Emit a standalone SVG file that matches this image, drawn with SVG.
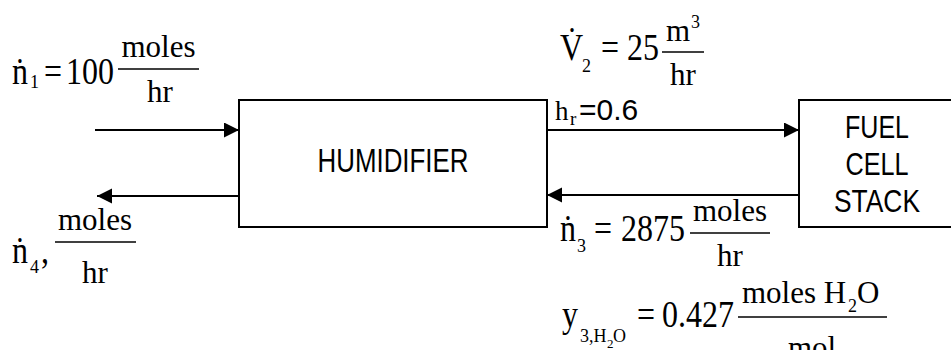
<svg xmlns="http://www.w3.org/2000/svg" width="951" height="350" viewBox="0 0 951 350">
<style>
.box{fill:#fff;stroke:#000;stroke-width:2}
.ln{stroke:#000;stroke-width:2;fill:none}
.fr{stroke:#000;stroke-width:1.6}
.lab{font-family:"Liberation Sans",Arial,sans-serif;font-size:31px;fill:#000;text-anchor:middle}
.m{font-family:"Liberation Serif","Times New Roman",serif;font-size:32px;fill:#000}
.f{font-family:"Liberation Serif","Times New Roman",serif;font-size:31px;fill:#000}
.c{text-anchor:middle}
.s{font-family:"Liberation Serif","Times New Roman",serif;font-size:18px;fill:#000}
.ss{font-family:"Liberation Serif","Times New Roman",serif;font-size:13px;fill:#000}
.sans{font-family:"Liberation Sans",Arial,sans-serif;font-size:30px;fill:#000}
</style>
<defs>
<marker id="ah" markerUnits="userSpaceOnUse" markerWidth="16" markerHeight="16" refX="15" refY="7.5" orient="auto">
<path d="M0,0 L15,7.5 L0,15 z" fill="#000"/>
</marker>
</defs>

<g id="humidifier">
<rect class="box" x="239" y="100" width="308" height="127"/>
<text class="lab" x="393" y="172" style="font-size:33px" textLength="151" lengthAdjust="spacingAndGlyphs">HUMIDIFIER</text>
</g>

<g id="fuel-cell-stack">
<rect class="box" x="799" y="100" width="160" height="127"/>
<text class="lab" x="877" y="138" style="font-size:32px" textLength="64" lengthAdjust="spacingAndGlyphs">FUEL</text>
<text class="lab" x="877" y="175" style="font-size:32px" textLength="63" lengthAdjust="spacingAndGlyphs">CELL</text>
<text class="lab" x="877" y="212" style="font-size:32px" textLength="86" lengthAdjust="spacingAndGlyphs">STACK</text>
</g>

<g id="connectors">
<line class="ln" x1="95" y1="130" x2="239" y2="130" marker-end="url(#ah)"/>
<line class="ln" x1="239" y1="196" x2="97" y2="196" marker-end="url(#ah)"/>
<line class="ln" x1="547" y1="130" x2="799" y2="130" marker-end="url(#ah)"/>
<line class="ln" x1="799" y1="195" x2="547" y2="195" marker-end="url(#ah)"/>
</g>

<g id="label-n1">
<text class="m" transform="translate(12 84) scale(1 1.18)">ṅ</text>
<text class="s" x="30" y="88">1</text>
<text class="m" transform="translate(44 84) scale(1 1.18)">=</text>
<text class="m" transform="translate(66 84) scale(1 1.18)">100</text>
<line class="fr" x1="118" y1="69" x2="199" y2="69"/>
<text class="f c" x="158.5" y="57">moles</text>
<text class="f c" x="160" y="102">hr</text>
</g>

<g id="label-n4">
<text class="m" transform="translate(12 263) scale(1 1.18)">ṅ</text>
<text class="s" x="30" y="273">4</text>
<text class="m" transform="translate(41 263) scale(1 1.18)">,</text>
<line class="fr" x1="55" y1="242" x2="136" y2="242"/>
<text class="f c" x="95" y="230">moles</text>
<text class="f c" x="95" y="283">hr</text>
</g>

<g id="label-v2">
<text class="m" transform="translate(560 60) scale(1 1.18)">V̇</text>
<text class="s" x="582" y="72">2</text>
<text class="m" transform="translate(601 60) scale(1 1.18)">=</text>
<text class="m" transform="translate(627 60) scale(1 1.18)">25</text>
<line class="fr" x1="662" y1="52" x2="704" y2="52"/>
<text class="f" x="666" y="41">m</text>
<text class="s" x="691" y="28">3</text>
<text class="f c" x="683" y="85">hr</text>
</g>

<g id="label-hr">
<text class="f" x="555" y="120" style="font-size:27px">h</text>
<text class="s" x="570" y="125" style="font-size:19px">r</text>
<text class="sans" x="579" y="120">=0.6</text>
</g>

<g id="label-n3">
<text class="m" transform="translate(560 241) scale(1 1.18)">ṅ</text>
<text class="s" x="577" y="252">3</text>
<text class="m" transform="translate(594 241) scale(1 1.18)">=</text>
<text class="m" transform="translate(621 241) scale(1 1.18)">2875</text>
<line class="fr" x1="690" y1="233" x2="770" y2="233"/>
<text class="f c" x="730" y="221">moles</text>
<text class="f c" x="730" y="266">hr</text>
</g>

<g id="label-y3">
<text class="m" transform="translate(562 327) scale(1 1.18)">y</text>
<text class="s" x="580" y="342">3,H</text>
<text class="ss" x="607" y="348">2</text>
<text class="s" x="613" y="342">O</text>
<text class="m" transform="translate(637 327) scale(1 1.18)">=</text>
<text class="m" transform="translate(662 327) scale(1 1.18)">0.427</text>
<line class="fr" x1="738" y1="317" x2="887" y2="317"/>
<text class="f" x="742" y="303">moles H</text>
<text class="s" x="848" y="312">2</text>
<text class="f" x="857" y="303">O</text>
<text class="f c" x="812" y="358">mol</text>
</g>
</svg>
